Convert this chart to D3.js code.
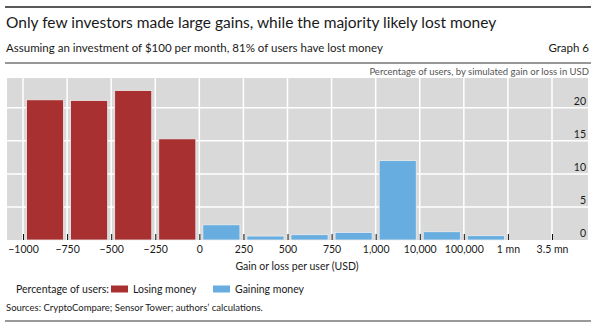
<!DOCTYPE html>
<html>
<head>
<meta charset="utf-8">
<script src="https://cdn.jsdelivr.net/npm/d3@7"></script>
<style>
  body { margin: 0; background: #fff; }
  svg text { font-family: Lato, "Open Sans", sans-serif; fill: #1a1a1a; }
</style>
</head>
<body>
<script>
// bin edges shown on the x axis
var edges = ['\u22121000', '\u2212750', '\u2212500', '\u2212250', '0', '250', '500', '750', '1,000', '10,000', '100,000', '1 mn', '3.5 mn'];
// share of users (%) in each bin, bin i runs from edges[i] to edges[i+1]
var losing = [21.2, 21.1, 22.6, 15.3];
var gaining = [2.3, 0.6, 0.8, 1.15, 12.0, 1.25, 0.65, 0];
var yTicks = [0, 5, 10, 15, 20];

var width = 600, height = 332;

var bins = [];
losing.forEach(function(v, i) { bins.push({ bin: i, value: v, kind: 'lose' }); });
gaining.forEach(function(v, i) { bins.push({ bin: losing.length + i, value: v, kind: 'gain' }); });

var colors = { lose: '#a83030', gain: '#68ade0' };

var svg = d3.select('body').append('svg')
  .attr('width', width)
  .attr('height', height);

// header
svg.append('line').attr('x1', 5).attr('x2', 591).attr('y1', 7).attr('y2', 7)
  .attr('stroke', '#222').attr('stroke-width', 1.5);
svg.append('text').attr('x', 6).attr('y', 28).style('font-size', '15.5px')
  .text('Only few investors made large gains, while the majority likely lost money');
svg.append('text').attr('x', 6).attr('y', 52).style('font-size', '11.5px')
  .text('Assuming an investment of $100 per month, 81% of users have lost money');
svg.append('text').attr('x', 589).attr('y', 52).attr('text-anchor', 'end').style('font-size', '11.5px')
  .text('Graph 6');
svg.append('line').attr('x1', 5).attr('x2', 591).attr('y1', 63).attr('y2', 63)
  .attr('stroke', '#333').attr('stroke-width', 1);
svg.append('text').attr('x', 589).attr('y', 75).attr('text-anchor', 'end')
  .style('font-size', '9.5px').style('fill', '#555')
  .text('Percentage of users, by simulated gain or loss in USD');

// plot area
var plot = { left: 7, right: 588, top: 78, bottom: 240 };

var y = d3.scaleLinear().domain([0, 24.5]).range([plot.bottom, plot.top]);
var xEdge = d3.scalePoint().domain(edges).range([23, 552]);
var step = xEdge.step();

svg.append('rect')
  .attr('x', plot.left).attr('y', plot.top)
  .attr('width', plot.right - plot.left).attr('height', plot.bottom - plot.top)
  .attr('fill', '#d9d9d9');

// gridlines
svg.selectAll('.hgrid').data(yTicks.slice(1)).enter().append('line')
  .attr('x1', plot.left).attr('x2', plot.right)
  .attr('y1', function(d) { return y(d); }).attr('y2', function(d) { return y(d); })
  .attr('stroke', '#fff').attr('stroke-width', 1.5);

svg.selectAll('.vgrid').data(edges).enter().append('line')
  .attr('x1', function(d) { return xEdge(d); }).attr('x2', function(d) { return xEdge(d); })
  .attr('y1', plot.top).attr('y2', plot.bottom)
  .attr('stroke', '#fff').attr('stroke-width', 1.5);

// y labels sit just above their gridline on the right
svg.selectAll('.ylab').data(yTicks).enter().append('text')
  .attr('x', 586).attr('y', function(d) { return y(d) - 3; })
  .attr('text-anchor', 'end').style('font-size', '10.5px')
  .text(function(d) { return d; });

// bars
svg.selectAll('.bar').data(bins.filter(function(d) { return d.value > 0; })).enter().append('rect')
  .attr('x', function(d) { return xEdge(edges[d.bin]) + 3.5; })
  .attr('width', step - 7)
  .attr('y', function(d) { return y(d.value); })
  .attr('height', function(d) { return plot.bottom - y(d.value); })
  .attr('fill', function(d) { return colors[d.kind]; })
  .attr('stroke', '#ececec').attr('stroke-width', 0.8);

// x axis, ticks pointing up into the plot
var xAxis = svg.append('g')
  .attr('transform', 'translate(0,' + plot.bottom + ')')
  .call(d3.axisBottom(xEdge).tickSize(-6).tickPadding(6));
xAxis.select('.domain').remove();
xAxis.selectAll('.tick line').attr('stroke', '#111');
xAxis.selectAll('.tick text').style('font-size', '10.5px').style('font-family', 'Lato, sans-serif').attr('fill', '#1a1a1a');

svg.append('text').attr('x', 297).attr('y', 270).attr('text-anchor', 'middle')
  .style('font-size', '10.5px').text('Gain or loss per user (USD)');

// legend
var leg = svg.append('g').attr('transform', 'translate(0,289)');
leg.append('text').attr('x', 16).attr('y', 4).style('font-size', '10.5px').text('Percentage of users:');
var legItems = [{ label: 'Losing money', kind: 'lose', x: 111 }, { label: 'Gaining money', kind: 'gain', x: 213 }];
legItems.forEach(function(d) {
  leg.append('rect').attr('x', d.x).attr('y', -3.5).attr('width', 17).attr('height', 7)
    .attr('fill', colors[d.kind]);
  leg.append('text').attr('x', d.x + 22).attr('y', 4).style('font-size', '10.5px').text(d.label);
});

svg.append('text').attr('x', 6).attr('y', 311).style('font-size', '9.5px')
  .text('Sources: CryptoCompare; Sensor Tower; authors\u2019 calculations.');
svg.append('line').attr('x1', 5).attr('x2', 591).attr('y1', 321).attr('y2', 321)
  .attr('stroke', '#777').attr('stroke-width', 1.5);
</script>
</body>
</html>
